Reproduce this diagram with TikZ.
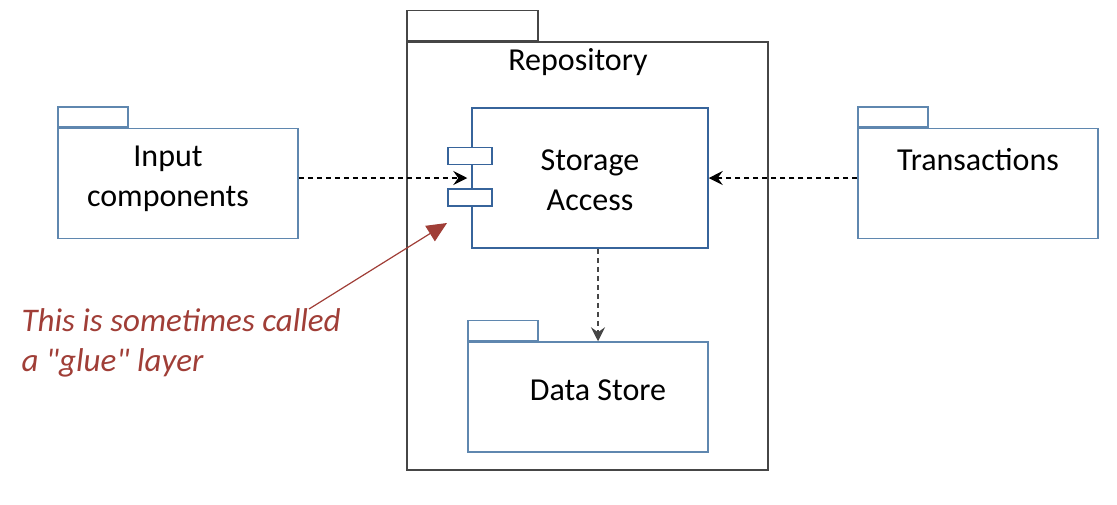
\documentclass[tikz,border=0pt]{standalone}
\usepackage{fontspec}
\setmainfont{Carlito}
\usetikzlibrary{positioning,arrows.meta}

\definecolor{pkgblue}{RGB}{95,135,175}
\definecolor{compblue}{RGB}{55,100,155}
\definecolor{repogray}{RGB}{70,70,70}
\definecolor{notered}{RGB}{160,62,55}

\begin{document}
\begin{tikzpicture}[x=1pt,y=-1pt]
    \tikzstyle{box}=[draw=pkgblue,line width=1.5pt,inner sep=0pt]
    \tikzstyle{pkg}=[box,minimum width=240pt,minimum height=110pt]
    \tikzstyle{tab}=[box,minimum width=70pt,minimum height=20pt,anchor=south west]
    \tikzstyle{comp}=[box,draw=compblue,minimum width=236pt,minimum height=140pt]
    \tikzstyle{port}=[box,draw=compblue,fill=white,minimum width=44pt,minimum height=17pt]
    \tikzstyle{txt}=[font=\fontsize{32}{40}\selectfont,align=center]
    \tikzstyle{dep}=[dashed,dash pattern=on 5pt off 4pt,line width=1.2pt,
        -{Stealth[length=14pt,width=14pt,inset=5pt]}]
    \tikzstyle{note}=[txt,align=left,text=notered,font=\fontsize{33}{40}\selectfont\itshape]

    \useasboundingbox (0,0) rectangle (1117,504);

    % Draw the repository package
    \node[box,draw=repogray,minimum width=361pt,minimum height=428pt] (repo) at (587.5,256) {};
    \node[tab,draw=repogray,minimum width=131pt,minimum height=30pt] (repo-tab) at (repo.north west) {};
    \node[txt] (repo-txt) at (578,62) {Repository};

    % Draw the storage access component with its two ports
    \node[comp] (st) at (590,178) {};
    \node[txt] (st-txt) at (590,180) {Storage\\Access};
    \foreach \name / \y in {1/156,2/197.5}
        \node[port] (port-\name) at (470,\y) {};

    % Draw the outer packages
    \node[pkg] (in) at (178,183.5) {};
    \node[tab] (in-tab) at (in.north west) {};
    \node[txt] (in-txt) at (168,179) {Input\\components};

    \node[pkg] (tr) at (978,183.5) {};
    \node[tab] (tr-tab) at (tr.north west) {};
    \node[txt] (tr-txt) at (978,160) {Transactions};

    \node[pkg] (ds) at (588,397) {};
    \node[tab] (ds-tab) at (ds.north west) {};
    \node[txt] (ds-txt) at (598,390) {Data Store};

    % Dependencies
    \draw[dep] (in.east |- st.west) -- ([xshift=-4pt]st.west);
    \draw[dep] (tr.west |- st.east) -- (st.east);
    \draw[dep,draw=repogray] ([xshift=8pt]st.south) -- ([xshift=8pt]st.south |- ds.north);

    % Annotate the glue layer
    \node[note,anchor=north west] (glue-note) at (18,305) {This is sometimes called\\a \textquotedbl glue\textquotedbl\ layer};
    \coordinate (glue-tail) at (309,309);
    \coordinate (glue-tip) at (447,223);
    \draw[notered,line width=1.2pt,-{Triangle[length=20pt,width=18pt]}] (glue-tail) -- (glue-tip);
\end{tikzpicture}
\end{document}
